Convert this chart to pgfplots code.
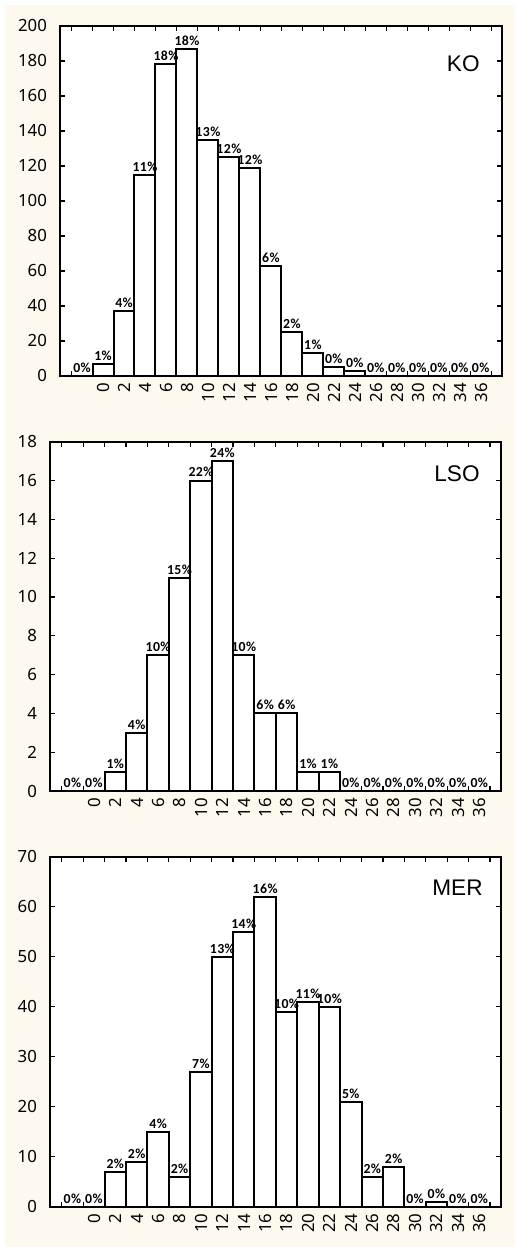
\documentclass[border=0pt]{standalone}
\usepackage{pgfplots}
\usepackage{pgfplotstable}
\pgfplotsset{compat=1.18}
\usepackage{fontspec}
\setmainfont{Noto Sans}
\newfontfamily\pctfont[LetterSpace=3]{Carlito}
\newfontfamily\namefont{Liberation Sans}
\definecolor{paper}{HTML}{FDF9EE}

% bin centre, count, share of the group in percent
\pgfplotstableread{
x y p
-1 0 0
1 7 1
3 37 4
5 115 11
7 178 18
9 187 18
11 135 13
13 125 12
15 119 12
17 63 6
19 25 2
21 13 1
23 5 0
25 3 0
27 0 0
29 0 0
31 0 0
33 0 0
35 0 0
37 0 0
}\ko

\pgfplotstableread{
x y p
-1 0 0
1 0 0
3 1 1
5 3 4
7 7 10
9 11 15
11 16 22
13 17 24
15 7 10
17 4 6
19 4 6
21 1 1
23 1 1
25 0 0
27 0 0
29 0 0
31 0 0
33 0 0
35 0 0
37 0 0
}\lso

\pgfplotstableread{
x y p
-1 0 0
1 0 0
3 7 2
5 9 2
7 15 4
9 6 2
11 27 7
13 50 13
15 55 14
17 62 16
19 39 10
21 41 11
23 40 10
25 21 5
27 6 2
29 8 2
31 0 0
33 1 0
35 0 0
37 0 0
}\mer

\pgfplotsset{
  hist/.style={
    scale only axis, anchor=south west,
    xmin=-3.1, xmax=39, ymin=0,
    axis background/.style={fill=white},
    axis on top,
    axis line style={line width=1pt},
    tick align=inside,
    major tick length=2.5pt,
    every tick/.style={black, line width=0.6pt},
    xtick={0,2,...,36},
    extra x ticks={-2,38}, extra x tick labels={},
    ticklabel style={font=\fontsize{8.4}{9}\selectfont},
    xticklabel style={rotate=90, anchor=east, yshift=-5.5pt},
    yticklabel style={xshift=-3pt},
    /pgf/number format/assume math mode=true,
  },
  bars/.style={
    ybar, bar width=2, fill=white, draw=black, line width=1pt,
    nodes near coords={\pgfplotspointmeta\%},
    point meta=explicit symbolic,
    every node near coord/.append style={
      font=\pctfont\bfseries\fontsize{6.9}{8}\selectfont,
      inner sep=1.2pt, anchor=south, black},
  },
}
\tikzset{
  tag/.style={anchor=north east, inner sep=0pt,
    font=\namefont\fontsize{11.3}{12}\selectfont},
}

\begin{document}
\begin{tikzpicture}
\path[use as bounding box] (0,0) rectangle (257.5pt,623.5pt);
\fill[paper] (2.5pt,0) rectangle (257.5pt,621pt);

\begin{axis}[hist, at={(30pt,435.5pt)}, width=220.85pt, height=175pt,
  ymax=200, ytick={0,20,...,200}]
  \addplot[bars] table[x=x, y=y, meta=p] {\ko};
  \node[tag, xshift=-10.85pt, yshift=-14.5pt] at (rel axis cs:1,1) {KO};
\end{axis}

\begin{axis}[hist, at={(25pt,228pt)}, width=225.35pt, height=174.65pt,
  ymax=18, ytick={0,2,...,18}]
  \addplot[bars] table[x=x, y=y, meta=p] {\lso};
  \node[tag, xshift=-10.35pt, yshift=-11.6pt] at (rel axis cs:1,1) {LSO};
\end{axis}

\begin{axis}[hist, at={(25pt,20.15pt)}, width=225.35pt, height=175pt,
  ymax=70, ytick={0,10,...,70}]
  \addplot[bars] table[x=x, y=y, meta=p] {\mer};
  \node[tag, xshift=-8.85pt, yshift=-11.6pt] at (rel axis cs:1,1) {MER};
\end{axis}
\end{tikzpicture}
\end{document}
